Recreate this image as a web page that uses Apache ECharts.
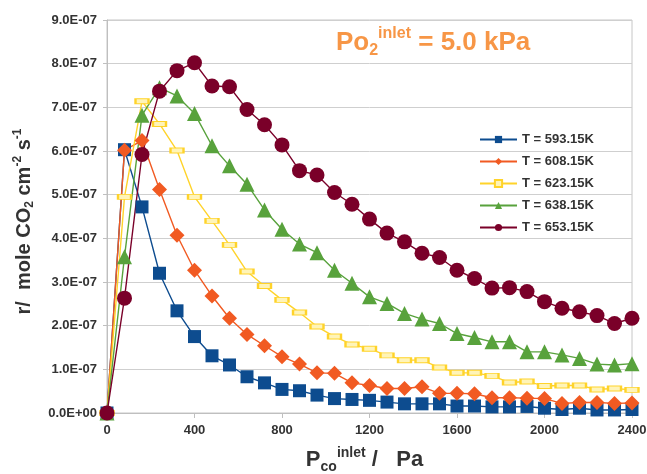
<!DOCTYPE html>
<html>
<head>
<meta charset="utf-8">
<script src="https://cdn.jsdelivr.net/npm/echarts@6/dist/echarts.min.js"></script>
<style>
  html, body { margin: 0; padding: 0; background: #ffffff; }
  #chart { width: 647px; height: 474px; }
</style>
</head>
<body>
<div id="chart"></div>
<script>
// CO inlet partial pressure (Pa)
const pressureCO = [0, 80, 160, 240, 320, 400, 480, 560, 640, 720, 800, 880, 960, 1040, 1120, 1200,
  1280, 1360, 1440, 1520, 1600, 1680, 1760, 1840, 1920, 2000, 2080, 2160, 2240, 2320, 2400];

// Reaction rate r (mole CO2 cm^-2 s^-1) at each temperature
const rate593 = [0, 6.03e-7, 4.72e-7, 3.20e-7, 2.34e-7, 1.75e-7, 1.31e-7, 1.10e-7, 0.83e-7, 0.69e-7,
  0.54e-7, 0.51e-7, 0.41e-7, 0.33e-7, 0.31e-7, 0.29e-7, 0.25e-7, 0.21e-7, 0.21e-7, 0.21e-7,
  0.16e-7, 0.16e-7, 0.14e-7, 0.14e-7, 0.15e-7, 0.11e-7, 0.08e-7, 0.11e-7, 0.07e-7, 0.07e-7, 0.08e-7];
const rate608 = [0, 6.02e-7, 6.24e-7, 5.12e-7, 4.07e-7, 3.27e-7, 2.68e-7, 2.17e-7, 1.80e-7, 1.54e-7,
  1.29e-7, 1.12e-7, 0.92e-7, 0.91e-7, 0.69e-7, 0.63e-7, 0.56e-7, 0.56e-7, 0.60e-7, 0.45e-7,
  0.45e-7, 0.44e-7, 0.35e-7, 0.35e-7, 0.34e-7, 0.33e-7, 0.22e-7, 0.24e-7, 0.24e-7, 0.22e-7, 0.23e-7];
const rate623 = [0, 4.95e-7, 7.14e-7, 6.62e-7, 6.01e-7, 4.95e-7, 4.40e-7, 3.85e-7, 3.24e-7, 2.91e-7,
  2.59e-7, 2.30e-7, 1.98e-7, 1.75e-7, 1.57e-7, 1.47e-7, 1.32e-7, 1.21e-7, 1.21e-7, 1.04e-7,
  0.92e-7, 0.92e-7, 0.85e-7, 0.70e-7, 0.72e-7, 0.62e-7, 0.63e-7, 0.63e-7, 0.54e-7, 0.56e-7, 0.53e-7];
const rate638 = [0, 3.58e-7, 6.82e-7, 7.45e-7, 7.26e-7, 6.86e-7, 6.12e-7, 5.66e-7, 5.24e-7, 4.65e-7,
  4.21e-7, 3.87e-7, 3.67e-7, 3.27e-7, 2.97e-7, 2.66e-7, 2.51e-7, 2.28e-7, 2.15e-7, 2.05e-7,
  1.82e-7, 1.73e-7, 1.63e-7, 1.63e-7, 1.40e-7, 1.40e-7, 1.33e-7, 1.25e-7, 1.12e-7, 1.10e-7, 1.13e-7];
const rate653 = [0, 2.63e-7, 5.92e-7, 7.37e-7, 7.84e-7, 8.02e-7, 7.49e-7, 7.47e-7, 6.95e-7, 6.60e-7,
  6.14e-7, 5.55e-7, 5.45e-7, 5.05e-7, 4.78e-7, 4.44e-7, 4.12e-7, 3.92e-7, 3.66e-7, 3.56e-7,
  3.27e-7, 3.08e-7, 2.86e-7, 2.87e-7, 2.78e-7, 2.55e-7, 2.40e-7, 2.32e-7, 2.23e-7, 2.05e-7, 2.17e-7];

const seriesNames = ['T = 593.15K', 'T = 608.15K', 'T = 623.15K', 'T = 638.15K', 'T = 653.15K'];

const FONT = "'Liberation Sans', Arial, sans-serif";
const TEXT = '#333333';

function pairs(ys) {
  return pressureCO.map((x, i) => [x, ys[i]]);
}

// Tick text in the "9.0E-07" style
function sci(v) {
  if (Math.abs(v) < 1e-12) return '0.0E+00';
  const s = v.toExponential(1);
  const [m, e] = s.split('e');
  const n = parseInt(e, 10);
  const sign = n < 0 ? '-' : '+';
  const abs = Math.abs(n);
  return m + 'E' + sign + (abs < 10 ? '0' + abs : abs);
}

function lineSeries(name, data, color, symbol, size, extra) {
  return Object.assign({
    name: name,
    type: 'line',
    data: pairs(data),
    symbol: symbol,
    symbolSize: size,
    showAllSymbol: true,
    color: color,
    lineStyle: { color: color, width: 1.4 },
    itemStyle: { color: color },
    emphasis: { disabled: true },
    animation: false
  }, extra || {});
}

const chart = echarts.init(document.getElementById('chart'), null, { renderer: 'canvas' });

const mainStyle = (size) => ({ fontSize: size, fontWeight: 'bold', fontFamily: FONT, color: TEXT });

chart.setOption({
  backgroundColor: '#ffffff',
  title: {
    text: '{b|Po}{sub|2}{sup|inlet}{b| = 5.0 kPa}',
    left: 331,
    top: 21,
    textStyle: {
      rich: {
        b: { fontSize: 26, fontWeight: 'bold', fontFamily: FONT, color: '#F79646', lineHeight: 33 },
        sub: { fontSize: 16, fontWeight: 'bold', fontFamily: FONT, color: '#F79646', verticalAlign: 'bottom' },
        sup: { fontSize: 16, fontWeight: 'bold', fontFamily: FONT, color: '#F79646', verticalAlign: 'top' }
      }
    }
  },
  legend: {
    orient: 'vertical',
    left: 474,
    top: 128,
    itemWidth: 37,
    itemHeight: 9,
    itemGap: 9,
    data: seriesNames,
    textStyle: { fontSize: 13, fontWeight: 'bold', fontFamily: FONT, color: TEXT }
  },
  grid: {
    left: 107,
    right: 15,
    top: 20,
    bottom: 61,
    outerBoundsMode: 'none',
    containLabel: false,
    show: true,
    borderColor: '#c6c6c6',
    borderWidth: 1,
    backgroundColor: 'transparent'
  },
  xAxis: {
    type: 'value',
    min: 0,
    max: 2400,
    interval: 400,
    name: '{b|P}{sub|co}{sup|inlet}{b| /   Pa}',
    nameLocation: 'middle',
    nameGap: 33,
    nameTextStyle: {
      padding: [0, 10, 0, 0],
      rich: {
        b: Object.assign(mainStyle(22), { lineHeight: 28 }),
        sub: Object.assign(mainStyle(14), { verticalAlign: 'bottom' }),
        sup: Object.assign(mainStyle(14), { verticalAlign: 'top' })
      }
    },
    axisLine: { show: true, lineStyle: { color: '#bfbfbf', width: 1 } },
    axisTick: { show: true, length: 5, lineStyle: { color: '#bfbfbf' } },
    axisLabel: {
      fontSize: 13, fontWeight: 'bold', fontFamily: FONT, color: TEXT, margin: 11,
      formatter: (v) => String(v)
    },
    splitLine: { show: false }
  },
  yAxis: {
    type: 'value',
    min: 0,
    max: 9e-7,
    interval: 1e-7,
    name: '{b|r/  mole CO}{sub|2}{b| cm}{sup|-2}{b| s}{sup|-1}',
    nameLocation: 'middle',
    nameGap: 71,
    nameTextStyle: {
      padding: [0, 10, 0, 0],
      rich: {
        b: Object.assign(mainStyle(20), { lineHeight: 24 }),
        sub: Object.assign(mainStyle(12), { verticalAlign: 'bottom' }),
        sup: Object.assign(mainStyle(12), { verticalAlign: 'top' })
      }
    },
    axisLine: { show: true, lineStyle: { color: '#bfbfbf', width: 1 } },
    axisTick: { show: true, length: 4, lineStyle: { color: '#bfbfbf' } },
    axisLabel: {
      fontSize: 13, fontWeight: 'bold', fontFamily: FONT, color: TEXT, margin: 10,
      formatter: sci
    },
    splitLine: { show: true, lineStyle: { color: '#cfcfcf', width: 1 } }
  },
  series: [
    lineSeries(seriesNames[0], rate593, '#0D4C8F', 'rect', 13),
    lineSeries(seriesNames[1], rate608, '#F15A22', 'diamond', 15),
    lineSeries(seriesNames[2], rate623, '#FFD32A', 'rect', [13, 5], {
      itemStyle: { color: '#FFF4B8', borderColor: '#FFD32A', borderWidth: 1.5 }
    }),
    lineSeries(seriesNames[3], rate638, '#58A23C', 'triangle', 15),
    lineSeries(seriesNames[4], rate653, '#7A0029', 'circle', 15)
  ]
});
</script>
</body>
</html>
